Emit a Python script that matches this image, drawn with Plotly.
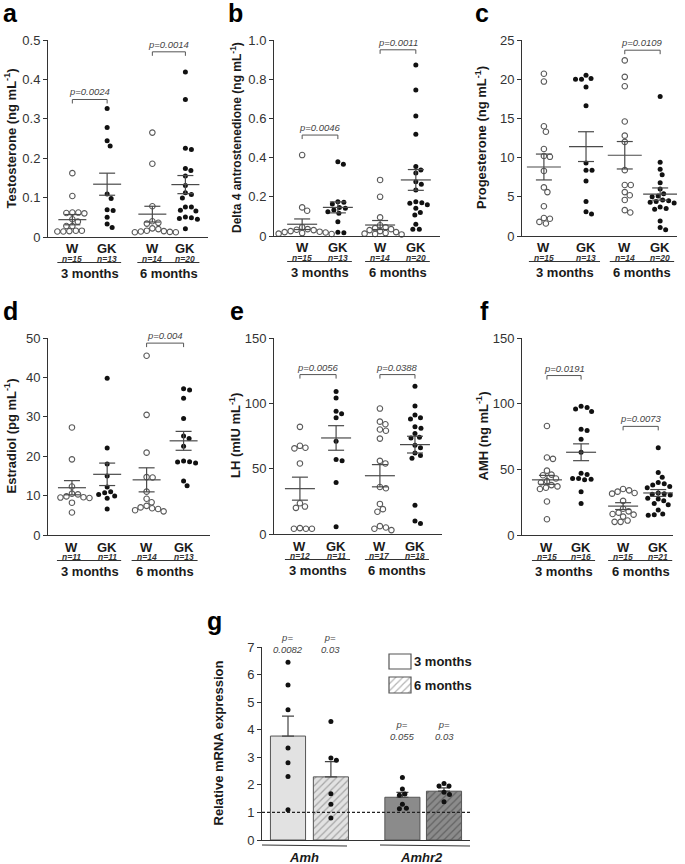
import plotly.graph_objects as go

# ---------------- data ----------------
GROUP_LABELS = ["W", "GK", "W", "GK"]
AGE_LABELS = ["3 months", "6 months"]

# a  Testosterone (ng/mL)
TESTO_W3 = [0.162, 0.104, 0.062, 0.061, 0.060, 0.062, 0.045, 0.039, 0.028, 0.028, 0.016, 0.014, 0.014, 0.015, 0.016]
TESTO_GK3 = [0.326, 0.278, 0.244, 0.231, 0.109, 0.098, 0.067, 0.069, 0.050, 0.033, 0.024]
TESTO_W6 = [0.265, 0.186, 0.078, 0.040, 0.036, 0.034, 0.022, 0.020, 0.016, 0.015, 0.014, 0.013, 0.012, 0.012]
TESTO_GK6 = [0.419, 0.349, 0.225, 0.222, 0.174, 0.169, 0.155, 0.131, 0.112, 0.108, 0.099, 0.076, 0.076,
             0.068, 0.066, 0.051, 0.049, 0.047, 0.045, 0.021]
TESTO_MEAN = [0.044, 0.134, 0.058, 0.133]
TESTO_SEM = [0.013, 0.028, 0.020, 0.023]
TESTO_N = [15, 13, 14, 20]
TESTO_P = ["0.0024", "0.0014"]

# b  Delta 4 androstenedione (ng/mL)
D4_W3 = [0.413, 0.146, 0.129, 0.045, 0.035, 0.032, 0.030, 0.025, 0.022, 0.020, 0.018, 0.015, 0.012, 0.010, 0.008]
D4_GK3 = [0.379, 0.366, 0.175, 0.172, 0.163, 0.146, 0.141, 0.133, 0.124, 0.116, 0.073, 0.019, 0.017]
D4_W6 = [0.286, 0.200, 0.095, 0.055, 0.045, 0.040, 0.035, 0.030, 0.025, 0.020, 0.015, 0.012, 0.010, 0.008]
D4_GK6 = [0.872, 0.745, 0.612, 0.519, 0.355, 0.337, 0.322, 0.277, 0.264, 0.235, 0.175, 0.170, 0.167,
          0.160, 0.141, 0.120, 0.107, 0.060, 0.035, 0.034]
D4_MEAN = [0.060, 0.146, 0.056, 0.286]
D4_SEM = [0.027, 0.028, 0.023, 0.053]
D4_N = [15, 13, 14, 20]
D4_P = ["0.0046", "0.0011"]

# c  Progesterone (ng/mL)
PROG_W3 = [20.7, 19.7, 14.0, 13.3, 11.1, 10.2, 10.1, 8.3, 6.2, 5.6, 3.8, 2.3, 2.2, 1.8, 1.6]
PROG_GK3 = [20.5, 20.1, 20.0, 20.0, 19.0, 16.6, 9.3, 8.4, 8.4, 7.0, 4.4, 3.1, 2.8]
PROG_W6 = [22.4, 20.3, 19.1, 14.6, 12.8, 12.0, 8.4, 6.5, 6.5, 5.6, 5.2, 4.6, 3.3, 3.0]
PROG_GK6 = [17.8, 9.4, 8.5, 7.8, 6.8, 6.0, 5.4, 5.1, 5.0, 4.6, 4.5, 4.4, 4.3, 4.2, 3.7, 3.5, 3.4, 1.9, 1.1, 0.8]
PROG_MEAN = [8.8, 11.4, 10.3, 5.35]
PROG_SEM = [1.65, 1.9, 1.75, 0.78]
PROG_N = [15, 13, 14, 20]
PROG_P = ["0.0109"]

# d  Estradiol (pg/mL)
E2_W3 = [27.3, 19.2, 12.3, 10.5, 10.3, 9.8, 9.6, 9.5, 9.4, 8.2, 5.7]
E2_GK3 = [39.8, 22.1, 18.0, 15.0, 12.2, 11.0, 10.7, 10.3, 9.9, 9.3, 6.6]
E2_W6 = [45.5, 30.5, 20.9, 14.7, 14.6, 11.0, 9.2, 8.3, 7.4, 7.0, 6.8, 6.6, 6.3, 6.0]
E2_GK6 = [37.1, 36.8, 34.7, 29.6, 25.1, 24.5, 22.5, 18.8, 18.6, 18.5, 18.3, 13.7, 12.5]
E2_MEAN = [12.0, 15.4, 14.0, 23.9]
E2_SEM = [1.8, 2.85, 3.05, 2.4]
E2_N = [11, 11, 14, 13]
E2_P = ["0.004"]

# e  LH (mIU/mL)
LH_W3 = [82.0, 67.5, 66.0, 65.5, 54.0, 23.5, 21.0, 20.0, 4.5, 4.0, 4.0, 4.0]
LH_GK3 = [109.0, 104.0, 94.0, 92.0, 89.0, 71.0, 57.0, 56.0, 39.5, 5.5]
LH_W6 = [96.0, 86.0, 84.0, 80.0, 79.0, 73.0, 56.0, 54.0, 36.0, 35.0, 23.0, 19.0, 17.0, 6.0, 5.0, 4.0, 3.0]
LH_GK6 = [113.0, 98.0, 91.0, 89.0, 88.0, 82.0, 81.0, 77.0, 74.0, 73.5, 68.0, 66.0, 62.0, 60.0, 58.0, 22.0, 10.0, 8.0]
LH_MEAN = [34.7, 73.5, 44.6, 68.4]
LH_SEM = [8.8, 9.4, 8.5, 6.4]
LH_N = [12, 11, 17, 18]
LH_P = ["0.0056", "0.0388"]

# f  AMH (ng/mL)
AMH_W3 = [83.0, 59.0, 58.0, 49.0, 46.0, 45.5, 43.0, 41.0, 40.0, 38.0, 37.0, 36.0, 35.0, 25.5, 12.0]
AMH_GK3 = [98.0, 97.0, 96.0, 94.0, 80.5, 79.5, 73.0, 63.0, 47.0, 46.0, 43.0, 43.0, 42.5, 42.0, 33.0, 24.0]
AMH_W6 = [35.0, 34.0, 33.0, 32.0, 31.5, 26.0, 20.0, 18.0, 17.0, 16.0, 15.5, 14.0, 11.0, 10.0, 10.0]
AMH_GK6 = [66.5, 47.5, 44.0, 40.0, 39.0, 38.0, 37.0, 36.0, 32.0, 31.5, 31.0, 30.5, 28.0, 27.5, 26.0,
           24.0, 23.0, 19.0, 16.0, 15.5, 15.0]
AMH_MEAN = [42.0, 63.0, 22.0, 32.0]
AMH_SEM = [3.4, 6.4, 2.6, 2.6]
AMH_N = [15, 16, 15, 21]
AMH_P = ["0.0191", "0.0073"]

# g  Relative mRNA expression
GENES = ["Amh", "Amhr2"]
G_LEGEND = ["3 months", "6 months"]
G_AMH_3M = [6.45, 5.62, 4.72, 3.34, 2.80, 2.30, 1.10]
G_AMH_6M = [4.30, 2.97, 2.89, 1.68, 1.30, 0.80]
G_AMHR2_3M = [2.27, 1.85, 1.67, 1.62, 1.30, 1.15, 1.13]
G_AMHR2_6M = [2.05, 1.96, 1.96, 1.73, 1.65, 1.39]
G_MEAN = [3.77, 2.29, 1.55, 1.77]
G_SEM = [0.72, 0.55, 0.18, 0.12]
G_P = ["0.0082", "0.03", "0.055", "0.03"]

# ---------------- layout helpers ----------------
W, H = 685, 864
FONT = "Liberation Sans, Arial, Helvetica, sans-serif"
AXC = "#333333"
TXT = "#1a1a1a"
XR = 4.6


def fx(px):
    return px / W


def fy(py):
    return 1 - py / H


def swarm(values, center, ppx, ppy, d=5.8):
    order = sorted(range(len(values)), key=lambda i: -values[i])
    steps = [0.0]
    for k in range(1, 300):
        steps += [k * 0.5, -k * 0.5]
    placed = []
    out = [0.0] * len(values)
    for i in order:
        y = values[i] * ppy
        off = 0.0
        for off in steps:
            if all((off - px) ** 2 + (y - py) ** 2 >= d * d for px, py in placed):
                break
        placed.append((off, y))
        out[i] = center + off / ppx
    return out


panels = [
    dict(letter="a", letter_px=(2, 13), box=(48, 208, 40, 237), yr=(0, 0.5),
         ticks=[0, 0.1, 0.2, 0.3, 0.4, 0.5], ticktext=["0", "0.1", "0.2", "0.3", "0.4", "0.5"],
         pos=[0.7, 1.7, 3.0, 3.95], title="Testosterone (ng mL<sup>-1</sup>)", title_x=10, title_size=13,
         groups=[TESTO_W3, TESTO_GK3, TESTO_W6, TESTO_GK6], mean=TESTO_MEAN, sem=TESTO_SEM, n=TESTO_N,
         brackets=[(0, 1, 0.349), (2, 3, 0.47)], pvals=TESTO_P, hw=14),
    dict(letter="b", letter_px=(227, 13), box=(274, 440, 40, 236), yr=(0, 1.0),
         ticks=[0, 0.2, 0.4, 0.6, 0.8, 1.0], ticktext=["0", "0.2", "0.4", "0.6", "0.8", "1.0"],
         pos=[0.78, 1.77, 2.94, 3.93], title="Delta 4 antrostenedione (ng mL<sup>-1</sup>)", title_x=236,
         title_size=12, groups=[D4_W3, D4_GK3, D4_W6, D4_GK6], mean=D4_MEAN, sem=D4_SEM, n=D4_N,
         brackets=[(0, 1, 0.515), (2, 3, 0.95)], pvals=D4_P, hw=15),
    dict(letter="c", letter_px=(474, 13), box=(522, 677, 40, 236), yr=(0, 25),
         ticks=[0, 5, 10, 15, 20, 25], ticktext=["0", "5", "10", "15", "20", "25"],
         pos=[0.65, 1.9, 3.05, 4.1], title="Progesterone (ng mL<sup>-1</sup>)", title_x=481, title_size=13,
         groups=[PROG_W3, PROG_GK3, PROG_W6, PROG_GK6], mean=PROG_MEAN, sem=PROG_SEM, n=PROG_N,
         brackets=[(2, 3, 23.7)], pvals=PROG_P, hw=17),
    dict(letter="d", letter_px=(2, 311), box=(48, 210, 338, 535), yr=(0, 50),
         ticks=[0, 10, 20, 30, 40, 50], ticktext=["0", "10", "20", "30", "40", "50"],
         pos=[0.68, 1.68, 2.8, 3.85], title="Estradiol (pg mL<sup>-1</sup>)", title_x=10, title_size=13,
         groups=[E2_W3, E2_GK3, E2_W6, E2_GK6], mean=E2_MEAN, sem=E2_SEM, n=E2_N,
         brackets=[(2, 3, 48.7)], pvals=E2_P, hw=14),
    dict(letter="e", letter_px=(229, 311), box=(274, 442, 338, 534), yr=(0, 150),
         ticks=[0, 50, 100, 150], ticktext=["0", "50", "100", "150"],
         pos=[0.71, 1.7, 2.9, 3.86], title="LH (mIU mL<sup>-1</sup>)", title_x=235, title_size=13,
         groups=[LH_W3, LH_GK3, LH_W6, LH_GK6], mean=LH_MEAN, sem=LH_SEM, n=LH_N,
         brackets=[(0, 1, 122), (2, 3, 122)], pvals=LH_P, hw=15),
    dict(letter="f", letter_px=(479, 311), box=(522, 673, 338, 535), yr=(0, 150),
         ticks=[0, 50, 100, 150], ticktext=["0", "50", "100", "150"],
         pos=[0.76, 1.8, 3.08, 4.15], title="AMH (ng mL<sup>-1</sup>)", title_x=482, title_size=13,
         groups=[AMH_W3, AMH_GK3, AMH_W6, AMH_GK6], mean=AMH_MEAN, sem=AMH_SEM, n=AMH_N,
         brackets=[(0, 1, 121.4), (2, 3, 82.7)], pvals=AMH_P, hw=15),
]

fig = go.Figure()
axes = {}
annotations = []
shapes = []


def ann(text, x, y, size, bold=False, italic=False, color=TXT, xanchor="center", yanchor="middle", angle=0):
    t = text
    if italic:
        t = "<i>" + t + "</i>"
    if bold:
        t = "<b>" + t + "</b>"
    annotations.append(dict(text=t, x=fx(x), y=fy(y), xref="paper", yref="paper", showarrow=False,
                            xanchor=xanchor, yanchor=yanchor, textangle=angle, borderpad=0,
                            font=dict(size=size, color=color, family=FONT)))


def line(x0, y0, x1, y1, color=AXC, width=1, dash=None):
    ln = dict(color=color, width=width)
    if dash:
        ln["dash"] = dash
    shapes.append(dict(type="line", xref="paper", yref="paper", x0=fx(x0), y0=fy(y0), x1=fx(x1), y1=fy(y1),
                       line=ln))


for k, P in enumerate(panels, start=1):
    sfx = "" if k == 1 else str(k)
    x0, x1, yt, yb = P["box"]
    ppx = (x1 - x0) / XR
    ppy = (yb - yt) / (P["yr"][1] - P["yr"][0])
    axes["xaxis" + sfx] = dict(domain=[fx(x0), fx(x1)], range=[0, XR], anchor="y" + sfx, showline=True,
                               linecolor=AXC, linewidth=1, showticklabels=False, ticks="", showgrid=False,
                               zeroline=False, fixedrange=True)
    axes["yaxis" + sfx] = dict(domain=[fy(yb), fy(yt)], range=list(P["yr"]), anchor="x" + sfx, showline=True,
                               linecolor=AXC, linewidth=1, ticks="outside", ticklen=4, tickcolor=AXC,
                               tickvals=P["ticks"], ticktext=P["ticktext"],
                               tickfont=dict(size=13, color="#333333", family=FONT),
                               showgrid=False, zeroline=False, fixedrange=True)

    def pxx(v):
        return x0 + v * ppx

    def pyy(v):
        return yb - (v - P["yr"][0]) * ppy

    for gi, vals in enumerate(P["groups"]):
        xs = swarm(vals, P["pos"][gi], ppx, ppy)
        is_open = gi % 2 == 0
        fig.add_trace(go.Scatter(
            x=xs, y=vals, mode="markers", xaxis="x" + sfx, yaxis="y" + sfx, cliponaxis=False,
            showlegend=False, hoverinfo="skip",
            marker=dict(symbol="circle-open" if is_open else "circle", size=5.5 if is_open else 5,
                        color="#5a5a5a" if is_open else "#111111",
                        line=dict(width=1.1 if is_open else 0, color="#5a5a5a"))))

    mx, my, sx, sy = [], [], [], []
    hw = P["hw"] / ppx
    cw = 8 / ppx
    for gi in range(4):
        c = P["pos"][gi]
        m = P["mean"][gi]
        s = P["sem"][gi]
        mx += [c - hw, c + hw, None]
        my += [m, m, None]
        sx += [c - cw, c + cw, None, c, c, None, c - cw, c + cw, None]
        sy += [m + s, m + s, None, m + s, m - s, None, m - s, m - s, None]
    fig.add_trace(go.Scatter(x=mx + sx, y=my + sy, mode="lines", xaxis="x" + sfx, yaxis="y" + sfx,
                             line=dict(color="#4a4a4a", width=1.2), showlegend=False, hoverinfo="skip",
                             cliponaxis=False))

    # p-value brackets
    for (i, j, lev), pv in zip(P["brackets"], P["pvals"]):
        xa, xb, yy = pxx(P["pos"][i]), pxx(P["pos"][j]), pyy(lev)
        line(xa, yy + 4, xa, yy, color="#555555")
        line(xa, yy, xb, yy, color="#555555")
        line(xb, yy, xb, yy + 4, color="#555555")
        ann("p=" + pv, (xa + xb) / 2, yy - 1, 9.5, italic=True, color="#444444", yanchor="bottom")

    # category labels
    for gi in range(4):
        cx = pxx(P["pos"][gi])
        ann(GROUP_LABELS[gi], cx, yb + 12, 13, bold=True)
        ann("n=" + str(P["n"][gi]), cx, yb + 21.5, 8.5, bold=True, italic=True, color="#333333")
    for a in range(2):
        xa, xb = pxx(P["pos"][2 * a]), pxx(P["pos"][2 * a + 1])
        line(xa - 15, yb + 25.5, xb + 14, yb + 25.5, color="#333333")
        ann(AGE_LABELS[a], (xa + xb) / 2, yb + 36, 13, bold=True)

    # title & letter
    ann(P["title"], P["title_x"], (yt + yb) / 2, P["title_size"], bold=True, angle=-90)
    ann(P["letter"], P["letter_px"][0], P["letter_px"][1], 25, bold=True, color="#000000", xanchor="left")

# ---------------- panel g ----------------
gx0, gx1, gyt, gyb = 262, 470, 647, 840
GXR = 8.0
gppx = (gx1 - gx0) / GXR
gppy = (gyb - gyt) / 7.0
axes["xaxis7"] = dict(domain=[fx(gx0), fx(gx1)], range=[0, GXR], anchor="y7", showline=True, linecolor=AXC,
                      showticklabels=False, ticks="", showgrid=False, zeroline=False, fixedrange=True)
axes["yaxis7"] = dict(domain=[fy(gyb), fy(gyt)], range=[0, 7], anchor="x7", showline=True, linecolor=AXC,
                      ticks="outside", ticklen=4, tickcolor=AXC, tickvals=list(range(8)),
                      tickfont=dict(size=13, color="#333333", family=FONT), showgrid=False, zeroline=False,
                      fixedrange=True)

BAR_POS = [1.0, 2.65, 5.4, 7.0]
BAR_W = 1.35
bar_fill = ["#e2e2e2", "#e2e2e2", "#8b8b8b", "#8b8b8b"]
bar_hatch = [None, "#6a6a6a", None, "#3a3a3a"]
g_points = [G_AMH_3M, G_AMH_6M, G_AMHR2_3M, G_AMHR2_6M]
for i in range(4):
    mk = dict(color=bar_fill[i], line=dict(color="#555555", width=1))
    if bar_hatch[i]:
        mk["pattern"] = dict(shape="/", fgcolor=bar_hatch[i], bgcolor=bar_fill[i], size=5, solidity=0.25)
    fig.add_trace(go.Bar(x=[BAR_POS[i]], y=[G_MEAN[i]], width=BAR_W, marker=mk, xaxis="x7", yaxis="y7",
                         showlegend=False, hoverinfo="skip",
                         error_y=dict(type="data", symmetric=False, array=[G_SEM[i]], arrayminus=[0],
                                      color="#444444", thickness=1.2, width=6)))
for i in range(4):
    xs = swarm(g_points[i], BAR_POS[i], gppx, gppy, d=5.5)
    fig.add_trace(go.Scatter(x=xs, y=g_points[i], mode="markers", xaxis="x7", yaxis="y7", cliponaxis=False,
                             marker=dict(size=5, color="#111111"), showlegend=False, hoverinfo="skip"))

line(gx0, gyb - gppy * 1.0, gx1, gyb - gppy * 1.0, color="#222222", width=1.2, dash="3px,2px")

p_y = [643, 643, 730, 730]
for i in range(4):
    cx = gx0 + BAR_POS[i] * gppx
    ann("p=<br>" + G_P[i], cx, p_y[i], 9.5, italic=True, color="#444444")

# gene labels with underlines
line(262, 845, 347, 846, color="#333333")
line(380, 845, 470, 846, color="#333333")
ann(GENES[0], 304, 857, 13, bold=True, italic=True)
ann(GENES[1], 421, 857, 13, bold=True, italic=True)

ann("Relative mRNA expression", 218, (gyt + gyb) / 2, 13, bold=True, angle=-90)
ann("g", 206, 621, 25, bold=True, color="#000000", xanchor="left")

# legend swatches
leg_boxes = [(389, 411, 654, 669), (389, 411, 677, 693)]
for li, (lx0, lx1, lyt, lyb) in enumerate(leg_boxes):
    if li == 1:
        sfx = "8"
        axes["xaxis" + sfx] = dict(domain=[fx(lx0), fx(lx1)], range=[-0.5, 0.5], anchor="y" + sfx,
                                   visible=False, fixedrange=True)
        axes["yaxis" + sfx] = dict(domain=[fy(lyb), fy(lyt)], range=[0, 1], anchor="x" + sfx, visible=False,
                                   fixedrange=True)
        mk = dict(color="#ffffff", line=dict(width=0),
                  pattern=dict(shape="/", fgcolor="#6a6a6a", bgcolor="#ffffff", size=5, solidity=0.25))
        fig.add_trace(go.Bar(x=[0], y=[1], width=1, marker=mk, xaxis="x" + sfx, yaxis="y" + sfx,
                             showlegend=False, hoverinfo="skip"))
    shapes.append(dict(type="rect", xref="paper", yref="paper", x0=fx(lx0), x1=fx(lx1), y0=fy(lyb), y1=fy(lyt),
                       line=dict(color="#555555", width=1.2), fillcolor="rgba(0,0,0,0)", layer="above"))
    ann(G_LEGEND[li], 413, (lyt + lyb) / 2, 13, bold=True, xanchor="left")

fig.update_layout(width=W, height=H, margin=dict(l=0, r=0, t=0, b=0, autoexpand=False), paper_bgcolor="white",
                  plot_bgcolor="rgba(0,0,0,0)", font=dict(family=FONT, color=TXT), showlegend=False,
                  annotations=annotations, shapes=shapes, bargap=0, **axes)
fig.write_html("out.html", config={"displayModeBar": False, "staticPlot": True},
               post_script="document.body.style.margin='0';document.body.style.overflow='hidden';")
